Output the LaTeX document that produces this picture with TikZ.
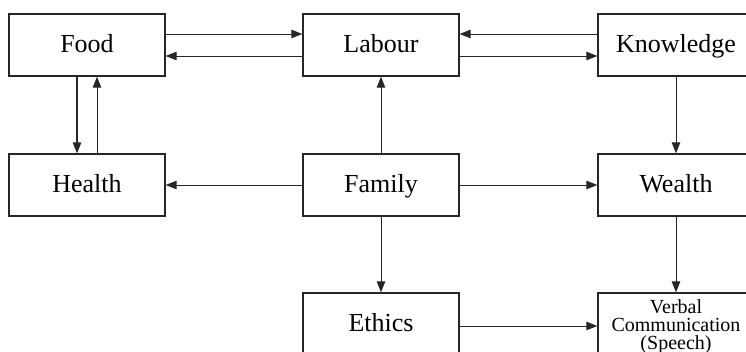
\documentclass[tikz,border=0pt]{standalone}
\usepackage{fontspec}
\setmainfont{Liberation Serif}
\usetikzlibrary{arrows.meta}

\begin{document}
\begin{tikzpicture}[x=1pt,y=-1pt]
        \tikzstyle{every node}=[draw=black!85, line width=1.3pt, minimum width=156pt, minimum height=62pt, inner sep=0pt, text height=21pt, text depth=6pt, font=\fontsize{26}{28}\selectfont];
        \tikzstyle{link}=[draw=black!85, line width=0.9pt, -{Triangle[length=11pt,width=8.5pt]}];
        \useasboundingbox (0,0) rectangle (746,351);
        \clip (0,0) rectangle (746,351);

        \node (food) at (87,45) {Food};
        \node (labour) at (381,45) {Labour};
        \node (knowledge) at (676,45) {Knowledge};
        \node (health) at (87,185) {Health};
        \node (family) at (381,185) {Family};
        \node (wealth) at (676,185) {Wealth};
        \node (ethics) at (381,324) {Ethics};
        \node (verbal) at (676,326.5) [minimum height=67pt, text height=, text depth=, font=\fontsize{20}{18}\selectfont, align=center] {Verbal\\Communication\\(Speech)};

        \draw[link] ([yshift=11pt]food.east) -- ([yshift=11pt]labour.west);
        \draw[link] ([yshift=-11pt]labour.west) -- ([yshift=-11pt]food.east);
        \draw[link] ([yshift=11pt]knowledge.west) -- ([yshift=11pt]labour.east);
        \draw[link] ([yshift=-11pt]labour.east) -- ([yshift=-11pt]knowledge.west);
        \draw[link, line width=1.5pt] ([xshift=-10pt]food.south) -- ([xshift=-10pt]health.north);
        \draw[link] ([xshift=10pt]health.north) -- ([xshift=10pt]food.south);
        \draw[link] (family) -- (labour);
        \draw[link] (family) -- (health);
        \draw[link] (family) -- (wealth);
        \draw[link] (knowledge) -- (wealth);
        \draw[link] (family) -- (ethics);
        \draw[link] (wealth) -- (verbal);
        \draw[link] ([yshift=-2pt]ethics.east) -- ([yshift=-2pt]ethics.east -| verbal.west);
\end{tikzpicture}
\end{document}
